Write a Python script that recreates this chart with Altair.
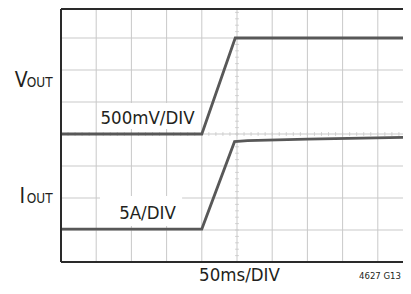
import altair as alt
import pandas as pd
import numpy as np

# ---- data (in scope divisions) ----
vout_t = [0.0, 4.0, 4.95, 10.0]
vout_v = [4.0, 4.0, 7.0, 7.0]
iout_t = [0.0, 4.0, 4.93, 5.3, 7.0, 10.0]
iout_v = [1.03, 1.03, 3.76, 3.79, 3.84, 3.9]

grid_x = [0, 1, 2, 3, 4, 5, 6, 7, 8, 9]
grid_y = [1, 2, 3, 4, 5, 6, 7]

PX_X = 35.2   # pixels per horizontal division
PX_Y = 32.0   # pixels per vertical division
W, H = 342, 253
X_MAX = W / PX_X
Y_MAX = H / PX_Y
FONT = "DejaVu Sans Condensed, DejaVu Sans, sans-serif"

xs = alt.Scale(domain=[0, X_MAX], nice=False, zero=False)
ys = alt.Scale(domain=[0, Y_MAX], nice=False, zero=False)

def X(f="x"):
    return alt.X(f"{f}:Q", scale=xs, axis=None)

def Y(f="y"):
    return alt.Y(f"{f}:Q", scale=ys, axis=None)

gx = pd.DataFrame({"x": grid_x, "y": 0.0, "y2": Y_MAX})
gy = pd.DataFrame({"y": grid_y, "x": 0.0, "x2": X_MAX})

GRID = "#c9c9c9"
vgrid = alt.Chart(gx).mark_rule(color=GRID, strokeWidth=1).encode(
    x=X(), y=Y(), y2="y2:Q")
hgrid = alt.Chart(gy).mark_rule(color=GRID, strokeWidth=1).encode(
    y=Y(), x=X(), x2="x2:Q")

# minor ticks on centre graticule
mt_h = pd.DataFrame({"x": np.round(np.arange(0, 10, 0.2), 2), "y": 4.0})
mt_v = pd.DataFrame({"y": np.round(np.arange(0, 8, 0.2), 2), "x": 5.0})
ticks_h = alt.Chart(mt_h).mark_tick(orient="vertical", size=4, thickness=1,
                                     color="#c4c4c4").encode(x=X(), y=Y())
ticks_v = alt.Chart(mt_v).mark_tick(orient="horizontal", size=4, thickness=1,
                                     color="#c4c4c4").encode(x=X(), y=Y())

boxes = pd.DataFrame({"x": [1.108, 1.108], "x2": [3.95, 3.44],
                      "y": [4.16, 1.125], "y2": [4.97, 2.06]})
box = alt.Chart(boxes).mark_rect(color="white").encode(
    x=X(), x2="x2:Q", y=Y(), y2="y2:Q")

vdf = pd.DataFrame({"x": vout_t, "y": vout_v})
idf = pd.DataFrame({"x": iout_t, "y": iout_v})
TRACE = "#585858"
vline = alt.Chart(vdf).mark_line(color=TRACE, strokeWidth=2.8, clip=True).encode(
    x=X(), y=Y(), order="x:Q")
iline = alt.Chart(idf).mark_line(color=TRACE, strokeWidth=2.8, clip=True).encode(
    x=X(), y=Y(), order="x:Q")

border = pd.DataFrame({"x": [0.0, 0.0, 0.0], "x2": [X_MAX, 0.0, X_MAX],
                       "y": [Y_MAX, 0.0, 0.0], "y2": [Y_MAX, Y_MAX, 0.0]})
frame = alt.Chart(border).mark_rule(color="#2a2a2a", strokeWidth=2).encode(
    x=X(), x2="x2:Q", y=Y(), y2="y2:Q")

def txt(s, x, y, size, align="left"):
    return alt.Chart(pd.DataFrame({"t": [s]})).mark_text(
        font=FONT, fontSize=size, align=align, baseline="alphabetic",
        color="#231f20").encode(x=alt.datum(x, scale=xs), y=alt.datum(y, scale=ys),
                                text="t:N")

labels = [
    txt("500mV/DIV", 2.457, 4.31, 18.5, "center"),
    txt("5A/DIV", 2.457, 1.33, 18.5, "center"),
    txt("V", -0.95, 5.47, 21, "right"),
    txt("OUT", -0.24, 5.47, 13.5, "right"),
    txt("I", -1.02, 1.84, 21, "right"),
    txt("OUT", -0.24, 1.84, 13.5, "right"),
]

xlabel = alt.Chart(pd.DataFrame({"t": ["50ms/DIV"]})).mark_text(
    font=FONT, fontSize=18.5, align="center", baseline="alphabetic", color="#231f20"
).encode(x=alt.value(178.5), y=alt.value(272), text="t:N")
code = alt.Chart(pd.DataFrame({"t": ["4627 G13"]})).mark_text(
    font=FONT, fontSize=9.5, align="right", baseline="alphabetic", color="#231f20"
).encode(x=alt.value(W - 2), y=alt.value(270), text="t:N")

chart = alt.layer(vgrid, hgrid, ticks_h, ticks_v, box, vline, iline, frame,
                  *labels, xlabel, code).properties(
    width=W, height=H,
    autosize=alt.AutoSizeParams(type="none"),
    padding={"left": 53, "top": 1, "right": 0, "bottom": 24},
).configure_view(stroke=None).configure(background="white")

chart.save("out.html", embed_options={"renderer": "svg", "actions": False})
